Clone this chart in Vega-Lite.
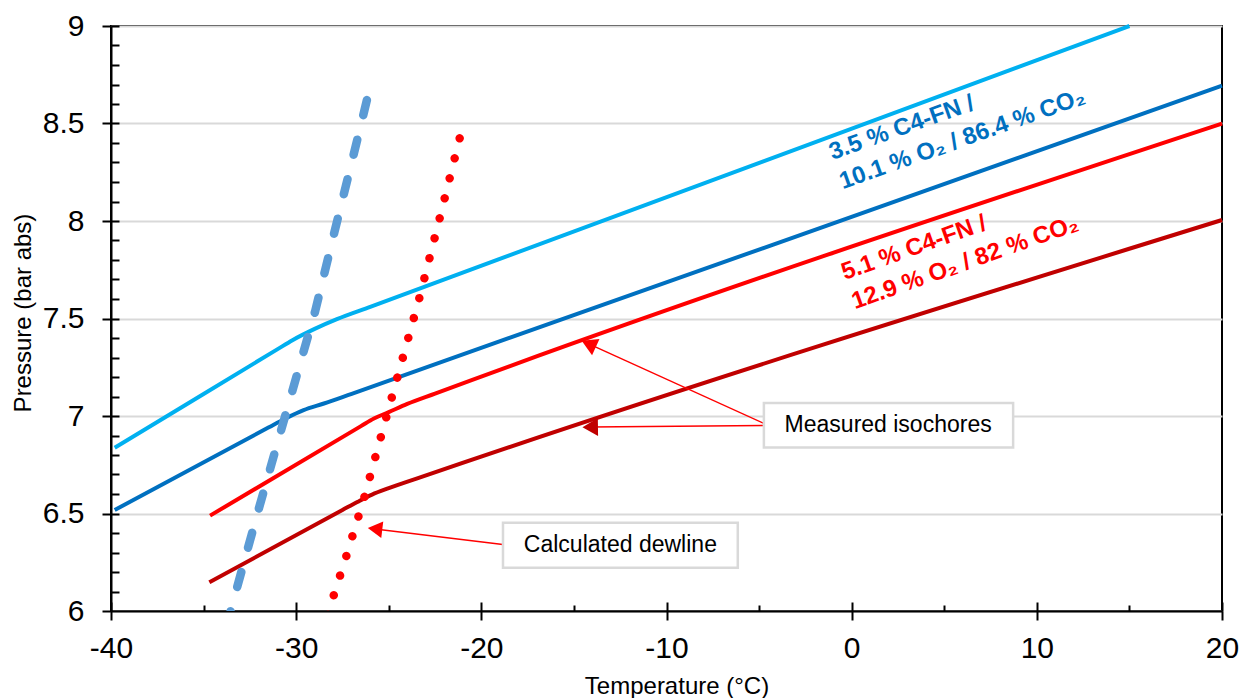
{
  "$schema": "https://vega.github.io/schema/vega-lite/v6.json",
  "width": 1111,
  "height": 585,
  "autosize": {"type": "none"},
  "padding": {"left": 111, "top": 26, "right": 27, "bottom": 87},
  "background": "white",
  "config": {
    "view": {"stroke": "black", "strokeWidth": 2},
    "axis": {
      "labelFont": "Liberation Sans", "titleFont": "Liberation Sans",
      "labelColor": "black", "titleColor": "black", "tickColor": "black", "domainColor": "black",
      "tickWidth": 2, "domainWidth": 2, "gridColor": "#D9D9D9", "gridWidth": 2,
      "labelFontSize": 30, "titleFontSize": 24, "titleFontWeight": "normal"
    },
    "text": {"font": "Liberation Sans"}
  },
  "datasets": {
    "iso": [
      {"s": "lb", "T": -39.8, "P": 6.837}, {"s": "lb", "T": -35, "P": 7.113}, {"s": "lb", "T": -31, "P": 7.343},
      {"s": "lb", "T": -30.2, "P": 7.389}, {"s": "lb", "T": -29, "P": 7.447}, {"s": "lb", "T": -27.8, "P": 7.497},
      {"s": "lb", "T": -26, "P": 7.56}, {"s": "lb", "T": 15, "P": 9.0},
      {"s": "db", "T": -39.8, "P": 6.518}, {"s": "db", "T": -31.5, "P": 6.941}, {"s": "db", "T": -30.6, "P": 6.986},
      {"s": "db", "T": -29.6, "P": 7.03}, {"s": "db", "T": -28.5, "P": 7.064}, {"s": "db", "T": -27, "P": 7.114},
      {"s": "db", "T": 20, "P": 8.694},
      {"s": "r", "T": -34.65, "P": 6.489}, {"s": "r", "T": -26.5, "P": 6.948}, {"s": "r", "T": -25.8, "P": 6.987},
      {"s": "r", "T": -25.0, "P": 7.02}, {"s": "r", "T": -24.0, "P": 7.062}, {"s": "r", "T": -22.5, "P": 7.115},
      {"s": "r", "T": 20, "P": 8.5},
      {"s": "dr", "T": -34.69, "P": 6.147}, {"s": "dr", "T": -27.5, "P": 6.518}, {"s": "dr", "T": -26.7, "P": 6.559},
      {"s": "dr", "T": -25.9, "P": 6.597}, {"s": "dr", "T": -25.0, "P": 6.63}, {"s": "dr", "T": -23.5, "P": 6.679},
      {"s": "dr", "T": 20, "P": 8.005}
    ],
    "dewB": [
      {"T": -26.18, "P": 8.62}, {"T": -26.86, "P": 8.355}, {"T": -27.93, "P": 7.945}, {"T": -28.98, "P": 7.535},
      {"T": -29.6, "P": 7.33}, {"T": -30.82, "P": 6.925}, {"T": -32.05, "P": 6.514}, {"T": -33.24, "P": 6.104},
      {"T": -33.68, "P": 5.95}
    ],
    "dewR": [
      {"T": -21.17, "P": 8.424}, {"T": -22.25, "P": 8.014}, {"T": -23.35, "P": 7.604}, {"T": -24.24, "P": 7.299},
      {"T": -25.14, "P": 6.991}, {"T": -26.32, "P": 6.583}, {"T": -27.3, "P": 6.279}, {"T": -27.98, "P": 6.078},
      {"T": -28.39, "P": 5.95}
    ],
    "arrows": [
      {"id": 1, "T": -4.74, "P": 6.962, "T2": -14.2, "P2": 7.37},
      {"id": 2, "T": -4.74, "P": 6.951, "T2": -14.12, "P2": 6.943},
      {"id": 3, "T": -18.84, "P": 6.341, "T2": -25.74, "P2": 6.421}
    ],
    "boxes": [
      {"label": "Measured isochores", "T1": -4.74, "T2": 8.72, "P1": 6.839, "P2": 7.067, "Tc": 1.97, "Pc": 6.953},
      {"label": "Calculated dewline", "T1": -18.83, "T2": -6.15, "P1": 6.222, "P2": 6.453, "Tc": -12.49, "Pc": 6.337}
    ],
    "labels": [
      {"s": "db", "T": -1.04, "P": 8.313, "text": "3.5 % C4-FN /\n10.1 % O₂ / 86.4 % CO₂"},
      {"s": "r", "T": -0.38, "P": 7.697, "text": "5.1 % C4-FN /\n12.9 % O₂ / 82 % CO₂"}
    ]
  },
  "resolve": {"axis": {"x": "independent", "y": "independent"}},
  "layer": [
    {
      "data": {"name": "iso"},
      "mark": {"type": "line", "strokeWidth": 4, "interpolate": "monotone"},
      "encoding": {
        "x": {"field": "T", "type": "quantitative", "scale": {"domain": [-40, 20], "nice": false, "zero": false},
          "axis": {"orient": "bottom", "values": [-40, -30, -20, -10, 0, 10, 20], "tickSize": 9, "labelPadding": 13,
            "labelExpr": "'' + datum.value", "labelFlush": false, "labelOverlap": false, "grid": false,
            "title": "Temperature (°C)", "titleX": 565.5, "titleY": 82, "titleBaseline": "alphabetic", "titleAlign": "center"}},
        "y": {"field": "P", "type": "quantitative", "scale": {"domain": [6, 9], "nice": false, "zero": false},
          "axis": {"orient": "left", "values": [6, 6.5, 7, 7.5, 8, 8.5, 9], "tickSize": 9, "labelPadding": 18,
            "labelExpr": "'' + datum.value", "labelFlush": false, "labelOverlap": false, "grid": true,
            "title": "Pressure (bar abs)", "titleX": -81, "titleY": 286.5, "titleBaseline": "alphabetic",
            "titleAlign": "center", "titleAngle": 270}},
        "color": {"field": "s", "type": "nominal", "scale": {"domain": ["lb", "db", "r", "dr"], "range": ["#00B0F0", "#0070C0", "#FF0000", "#C00000"]}, "legend": null}
      }
    },
    {
      "data": {"name": "dewB"},
      "mark": {"type": "line", "strokeWidth": 8.5, "color": "#5B9BD5", "strokeDash": [15.5, 25.2], "strokeCap": "round", "clip": true},
      "encoding": {
        "x": {"field": "T", "type": "quantitative",
          "axis": {"orient": "bottom", "values": [-40, -30, -20, -10, 0, 10, 20], "tickSize": -9, "labels": false, "domain": false, "grid": false, "title": null}},
        "y": {"field": "P", "type": "quantitative",
          "axis": {"orient": "left", "values": [6.1, 6.2, 6.3, 6.4, 6.5, 6.6, 6.7, 6.8, 6.9, 7, 7.1, 7.2, 7.3, 7.4, 7.5, 7.6, 7.7, 7.8, 7.9, 8, 8.1, 8.2, 8.3, 8.4, 8.5, 8.6, 8.7, 8.8, 8.9, 9],
            "tickSize": -8, "labels": false, "domain": false, "grid": false, "title": null}},
        "order": {"field": "P", "sort": "descending"}
      }
    },
    {
      "data": {"name": "dewR"},
      "mark": {"type": "line", "strokeWidth": 8.5, "color": "#FF0000", "strokeDash": [0.01, 20.6], "strokeCap": "round", "clip": true},
      "encoding": {
        "x": {"field": "T", "type": "quantitative",
          "axis": {"orient": "bottom", "values": [-35, -25, -15, -5, 5, 15], "tickSize": -6, "labels": false, "domain": false, "grid": false, "title": null}},
        "y": {"field": "P", "type": "quantitative", "axis": null},
        "order": {"field": "P", "sort": "descending"}
      }
    },
    {
      "data": {"name": "arrows"},
      "mark": {"type": "rule", "color": "#FF0000", "strokeWidth": 1.5},
      "encoding": {
        "x": {"field": "T", "type": "quantitative", "axis": null},
        "y": {"field": "P", "type": "quantitative", "axis": null},
        "x2": {"field": "T2"},
        "y2": {"field": "P2"}
      }
    },
    {
      "data": {"name": "arrows"},
      "transform": [{"filter": "datum.id == 1"}],
      "mark": {"type": "point", "shape": "triangle-left", "filled": true, "size": 320, "angle": 24.5, "color": "#FF0000", "opacity": 1},
      "encoding": {
        "x": {"field": "T2", "type": "quantitative", "axis": null},
        "y": {"field": "P2", "type": "quantitative", "axis": null}
      }
    },
    {
      "data": {"name": "arrows"},
      "transform": [{"filter": "datum.id == 2"}],
      "mark": {"type": "point", "shape": "triangle-left", "filled": true, "size": 320, "angle": -0.7, "color": "#C00000", "opacity": 1},
      "encoding": {
        "x": {"field": "T2", "type": "quantitative", "axis": null},
        "y": {"field": "P2", "type": "quantitative", "axis": null}
      }
    },
    {
      "data": {"name": "arrows"},
      "transform": [{"filter": "datum.id == 3"}],
      "mark": {"type": "point", "shape": "triangle-left", "filled": true, "size": 280, "angle": 6.8, "color": "#FF0000", "opacity": 1},
      "encoding": {
        "x": {"field": "T2", "type": "quantitative", "axis": null},
        "y": {"field": "P2", "type": "quantitative", "axis": null}
      }
    },
    {
      "data": {"name": "boxes"},
      "mark": {"type": "rect", "fill": "white", "stroke": "#D9D9D9", "strokeWidth": 2.5},
      "encoding": {
        "x": {"field": "T1", "type": "quantitative", "axis": null},
        "x2": {"field": "T2"},
        "y": {"field": "P1", "type": "quantitative", "axis": null},
        "y2": {"field": "P2"}
      }
    },
    {
      "data": {"name": "boxes"},
      "mark": {"type": "text", "fontSize": 23, "color": "black", "align": "center", "baseline": "middle"},
      "encoding": {
        "x": {"field": "Tc", "type": "quantitative", "axis": null},
        "y": {"field": "Pc", "type": "quantitative", "axis": null},
        "text": {"field": "label"}
      }
    },
    {
      "data": {"name": "labels"},
      "mark": {"type": "text", "fontSize": 24, "fontWeight": "bold", "align": "left", "baseline": "alphabetic", "angle": -19.5, "lineBreak": "\n", "lineHeight": 31},
      "encoding": {
        "x": {"field": "T", "type": "quantitative", "axis": null},
        "y": {"field": "P", "type": "quantitative", "axis": null},
        "text": {"field": "text"},
        "color": {"field": "s", "type": "nominal", "scale": {"domain": ["lb", "db", "r", "dr"], "range": ["#00B0F0", "#0070C0", "#FF0000", "#C00000"]}, "legend": null}
      }
    }
  ]
}
